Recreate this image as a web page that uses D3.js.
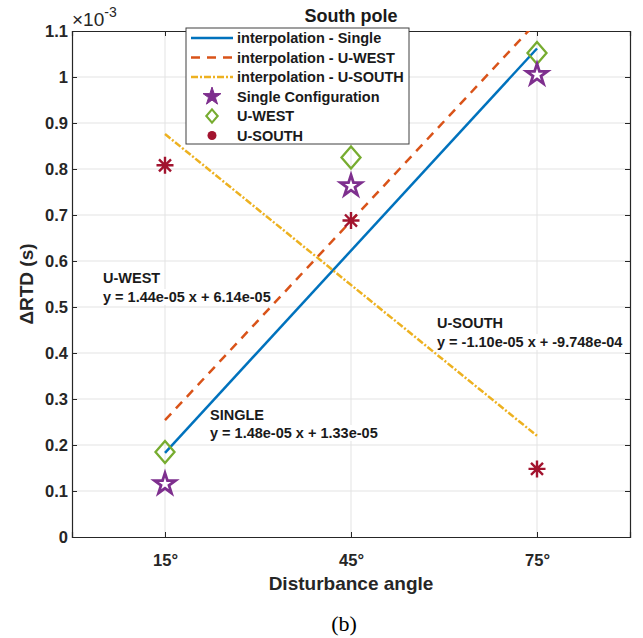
<!DOCTYPE html>
<html>
<head>
<meta charset="utf-8">
<script src="https://cdn.jsdelivr.net/npm/d3@7/dist/d3.min.js"></script>
<style>
  body { margin: 0; background: #fff; }
  text { font-family: "Liberation Sans", Arial, sans-serif; }
</style>
</head>
<body>
<svg id="chart" width="643" height="638"></svg>
<script>
// values in units of 1e-3 s
var angles = [15, 45, 75];
var tickLabels = ["15°", "45°", "75°"];
var yTicks = [0, 0.1, 0.2, 0.3, 0.4, 0.5, 0.6, 0.7, 0.8, 0.9, 1, 1.1];
var singleVals = [0.115, 0.763, 1.005];
var westVals = [0.185, 0.825, 1.052];
var southVals = [0.808, 0.688, 0.148];
var fitSingle = [0.183, 1.062];
var fitWest = [0.254, 1.12];
var fitSouth = [0.876, 0.22];
var legendNames = ["interpolation - Single", "interpolation - U-WEST", "interpolation - U-SOUTH",
                   "Single Configuration", "U-WEST", "U-SOUTH"];

var svg = d3.select("#chart");
var margin = {top: 31, right: 13, bottom: 101, left: 72},
    width = 643 - margin.left - margin.right,
    height = 638 - margin.top - margin.bottom;

var x = d3.scaleLinear().domain([0, 90]).range([0, width]);
var y = d3.scaleLinear().domain([0, 1.1]).range([height, 0]);

var blue = "#0072BD", orange = "#D95319", yellow = "#EDB120",
    purple = "#7E2F8E", green = "#77AC30", red = "#A2142F";

svg.append("defs").append("clipPath").attr("id", "clip")
  .append("rect").attr("width", width).attr("height", height);

var g = svg.append("g").attr("transform", "translate(" + margin.left + "," + margin.top + ")");

// grid
g.append("g").selectAll("line").data(yTicks.slice(1, -1)).enter().append("line")
  .attr("x1", 0).attr("x2", width).attr("y1", d => y(d)).attr("y2", d => y(d))
  .attr("stroke", "#e3e3e3").attr("stroke-width", 1);
g.append("g").selectAll("line").data(angles).enter().append("line")
  .attr("y1", 0).attr("y2", height).attr("x1", d => x(d)).attr("x2", d => x(d))
  .attr("stroke", "#e3e3e3").attr("stroke-width", 1);

// axes (ticks inward, mirrored)
var yAxis = d3.axisLeft(y).tickValues(yTicks).tickSize(-5).tickPadding(4)
  .tickFormat(d => d3.format("~g")(d));
var yAxisR = d3.axisRight(y).tickValues(yTicks).tickSize(-5).tickFormat("");
var xAxis = d3.axisBottom(x).tickValues(angles).tickSize(-5).tickPadding(17)
  .tickFormat((d, i) => tickLabels[i]);
var xAxisT = d3.axisTop(x).tickValues(angles).tickSize(-5).tickFormat("");

function styleAxis(sel) {
  sel.select(".domain").attr("stroke", "#262626").attr("stroke-width", 1.2);
  sel.selectAll(".tick line").attr("stroke", "#262626");
  sel.selectAll("text").attr("fill", "#262626").style("font-size", "16.5px").style("font-weight", "bold");
}
g.append("g").call(yAxis).call(styleAxis);
g.append("g").attr("transform", "translate(" + width + ",0)").call(yAxisR).call(styleAxis);
g.append("g").attr("transform", "translate(0," + height + ")").call(xAxis).call(styleAxis);
g.append("g").call(xAxisT).call(styleAxis);

// fit lines
var fits = [
  {v: fitSingle, c: blue, dash: null},
  {v: fitWest, c: orange, dash: "9,7"},
  {v: fitSouth, c: yellow, dash: "7,2,2,2"}
];
var lineGen = d3.line().x(d => x(d[0])).y(d => y(d[1]));
g.append("g").attr("clip-path", "url(#clip)").selectAll("path").data(fits).enter().append("path")
  .attr("d", d => lineGen([[angles[0], d.v[0]], [angles[2], d.v[1]]]))
  .attr("fill", "none").attr("stroke", d => d.c).attr("stroke-width", 2.5)
  .attr("stroke-dasharray", d => d.dash);

// markers
var star = d3.symbol().type(d3.symbolStar).size(135);
var diamond = "M0,-11L9.5,0L0,11L-9.5,0Z";
function asterisk(r) {
  var p = "";
  for (var k = 0; k < 4; k++) {
    var a = k * Math.PI / 4;
    p += "M" + (-r * Math.cos(a)) + "," + (-r * Math.sin(a)) + "L" + (r * Math.cos(a)) + "," + (r * Math.sin(a));
  }
  return p;
}
g.selectAll(".mw").data(westVals).enter().append("path")
  .attr("transform", (d, i) => "translate(" + x(angles[i]) + "," + y(d) + ")")
  .attr("d", diamond).attr("fill", "none").attr("stroke", green).attr("stroke-width", 2.3);
g.selectAll(".ms").data(singleVals).enter().append("path")
  .attr("transform", (d, i) => "translate(" + x(angles[i]) + "," + y(d) + ")")
  .attr("d", star).attr("fill", "#fff").attr("stroke", purple).attr("stroke-width", 2.8);
g.selectAll(".mu").data(southVals).enter().append("path")
  .attr("transform", (d, i) => "translate(" + x(angles[i]) + "," + y(d) + ")")
  .attr("d", asterisk(8.5)).attr("stroke", red).attr("stroke-width", 2.4);

// annotations
var notes = [
  {x: 103, y: 283, t: "U-WEST"},
  {x: 103, y: 302, t: "y = 1.44e-05 x + 6.14e-05"},
  {x: 210, y: 420, t: "SINGLE"},
  {x: 210, y: 438, t: "y = 1.48e-05 x + 1.33e-05"},
  {x: 437, y: 328, t: "U-SOUTH"},
  {x: 437, y: 347, t: "y = -1.10e-05 x + -9.748e-04"}
];
notes.forEach(function(n) {
  var t = svg.append("text").attr("x", n.x).attr("y", n.y).text(n.t)
    .style("font-size", "14.5px").style("font-weight", "bold").attr("fill", "#1a1a1a");
  var b = t.node().getBBox();
  svg.insert("rect", function() { return t.node(); })
    .attr("x", b.x - 1).attr("y", b.y).attr("width", b.width + 2).attr("height", b.height).attr("fill", "#fff");
});

// legend
var lg = svg.append("g").attr("transform", "translate(186,28)");
lg.append("rect").attr("width", 223).attr("height", 116).attr("fill", "#fff")
  .attr("stroke", "#404040").attr("stroke-width", 1);
legendNames.forEach(function(name, i) {
  var cy = 10 + i * 19.5;
  if (i < 3) {
    lg.append("line").attr("x1", 5).attr("x2", 47).attr("y1", cy).attr("y2", cy)
      .attr("stroke", fits[i].c).attr("stroke-width", 2.5).attr("stroke-dasharray", fits[i].dash);
  } else if (i == 3) {
    lg.append("path").attr("transform", "translate(26," + cy + ")")
      .attr("d", d3.symbol().type(d3.symbolStar).size(100)).attr("fill", purple).attr("stroke", purple);
  } else if (i == 4) {
    lg.append("path").attr("transform", "translate(26," + cy + ") scale(0.6)")
      .attr("d", diamond).attr("fill", "none").attr("stroke", green).attr("stroke-width", 3.5);
  } else {
    lg.append("circle").attr("cx", 26).attr("cy", cy).attr("r", 4.5).attr("fill", red);
  }
  lg.append("text").attr("x", 51).attr("y", cy + 5).text(name)
    .style("font-size", "14.5px").style("font-weight", "bold").attr("fill", "#1a1a1a");
});

// titles
svg.append("text").attr("x", 351).attr("y", 22).attr("text-anchor", "middle").text("South pole")
  .style("font-size", "18px").style("font-weight", "bold").attr("fill", "#1a1a1a");
var ex = svg.append("text").attr("x", 72).attr("y", 26).attr("fill", "#262626")
  .style("font-size", "19px");
ex.append("tspan").text("×10");
ex.append("tspan").attr("dy", -9).style("font-size", "14px").text("-3");
svg.append("text").attr("transform", "translate(33," + (margin.top + height / 2) + ") rotate(-90)")
  .attr("text-anchor", "middle").text("ΔRTD (s)")
  .style("font-size", "19px").style("font-weight", "bold").attr("fill", "#262626");
svg.append("text").attr("x", 351).attr("y", 590).attr("text-anchor", "middle").text("Disturbance angle")
  .style("font-size", "19px").style("font-weight", "bold").attr("fill", "#262626");
svg.append("text").attr("x", 344).attr("y", 631).attr("text-anchor", "middle").text("(b)")
  .style("font-family", "'Liberation Serif', 'Times New Roman', serif").style("font-size", "22px");
</script>
</body>
</html>
